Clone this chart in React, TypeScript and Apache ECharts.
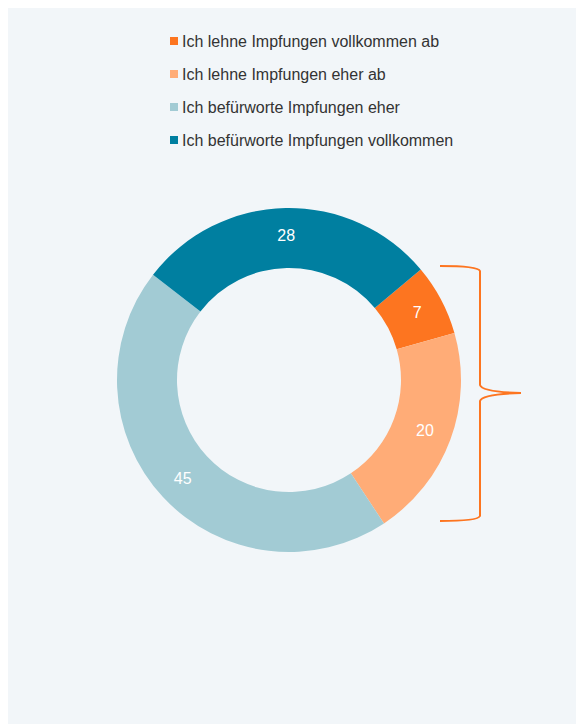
import React, { useEffect, useRef } from "react";
import * as echarts from "echarts";

const categories = [
  "Ich lehne Impfungen vollkommen ab",
  "Ich lehne Impfungen eher ab",
  "Ich befürworte Impfungen eher",
  "Ich befürworte Impfungen vollkommen",
];
const values = [6.7, 20.1, 44.8, 28.4];
const colors = ["#fd7520", "#ffac77", "#a2cbd4", "#007fa0"];

const BRACE_D =
  "M432 258 Q470 258 472 263 L472 377 Q474 384 513 385 Q474 386 472 393 L472 508 Q470 513 432 513";

let registered = false;

export default function App() {
  const ref = useRef<HTMLDivElement>(null);
  useEffect(() => {
    if (!ref.current) return;
    if (!registered) {
      echarts.graphic.registerShape("brace", echarts.graphic.extendPath(BRACE_D, {}) as any);
      registered = true;
    }
    const chart = echarts.init(ref.current, undefined, { renderer: "svg" });
    chart.setOption({
      animation: false,
      backgroundColor: "#f2f6f9",
      color: colors,
      legend: {
        orient: "vertical",
        left: 157,
        top: 20,
        icon: "rect",
        itemWidth: 8,
        itemHeight: 8,
        itemGap: 17,
        textStyle: { fontFamily: "Liberation Sans, Arial, sans-serif", fontSize: 16, color: "#333333", padding: [0, 0, 0, -1] },
        data: categories,
      },
      series: [
        {
          type: "pie",
          center: [281, 372],
          radius: [112, 172],
          startAngle: 40,
          clockwise: true,
          label: {
            show: true,
            position: "inside",
            formatter: (p: any) => String(Math.round(p.value)),
            color: "#ffffff",
            fontSize: 16,
            fontFamily: "Liberation Sans, Arial, sans-serif",
          },
          labelLine: { show: false },
          emphasis: { disabled: true },
          data: categories.map((n, i) => ({ name: n, value: values[i] })),
        },
      ],
      graphic: [
        {
          type: "brace",
          x: 0,
          y: 0,
          style: { fill: "none", stroke: "#fd7520", lineWidth: 2 },
        },
      ],
    });
    return () => chart.dispose();
  }, []);
  return <div ref={ref} style={{ width: 576, height: 716 }} />;
}
